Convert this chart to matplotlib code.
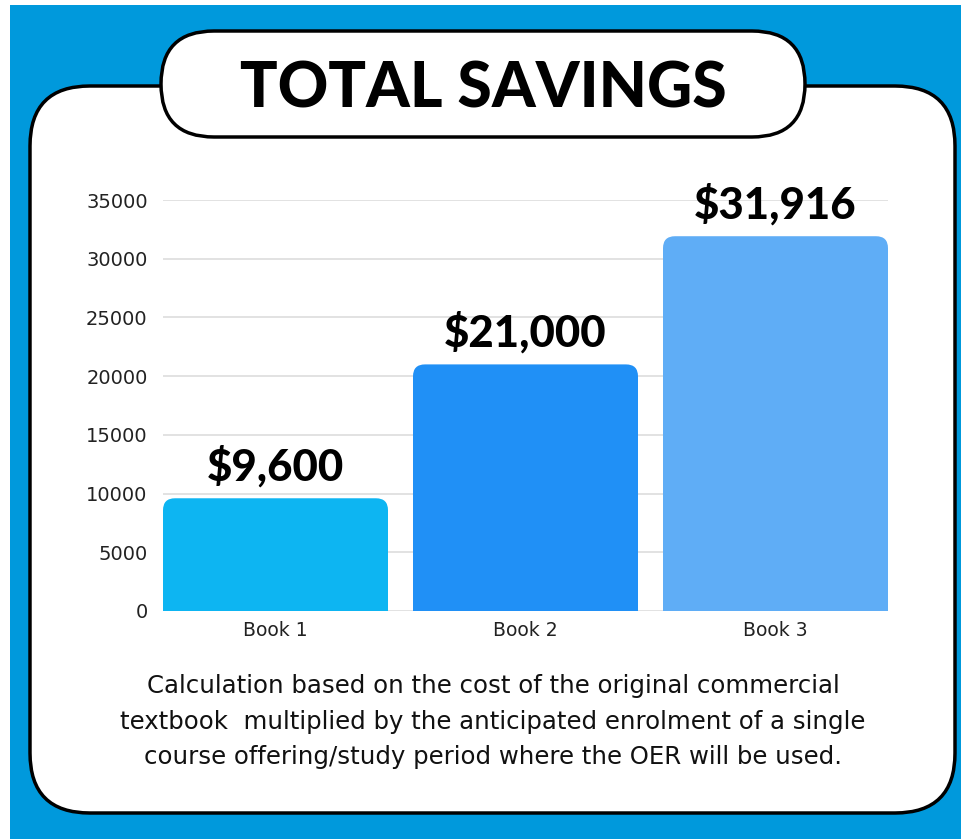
import matplotlib
matplotlib.use("Agg")
import matplotlib.pyplot as plt
from matplotlib.patches import FancyBboxPatch, Rectangle
from matplotlib.transforms import IdentityTransform

categories = ["Book 1", "Book 2", "Book 3"]
savings = [9600, 21000, 31916]
value_labels = ["$9,600", "$21,000", "$31,916"]
yticks = [0, 5000, 10000, 15000, 20000, 25000, 30000, 35000]
title = "TOTAL SAVINGS"
footer = ["Calculation based on the cost of the original commercial",
          "textbook  multiplied by the anticipated enrolment of a single",
          "course offering/study period where the OER will be used."]
bar_colors = ["#0db5f2", "#2090f6", "#5fadf6"]

W, H = 961, 839
fig = plt.figure(figsize=(W / 100, H / 100), dpi=100)
fig.patch.set_facecolor("white")

bg = fig.add_axes([0, 0, 1, 1])
bg.set_xlim(0, W)
bg.set_ylim(H, 0)
bg.axis("off")
bg.add_patch(Rectangle((10, 5), W - 10, H - 5, facecolor="#0099dc", edgecolor="none", zorder=0))
bg.add_patch(FancyBboxPatch((30, 86), 925, 727, boxstyle="round,pad=0,rounding_size=60",
                            facecolor="white", edgecolor="black", lw=2.5, zorder=1))
bg.add_patch(FancyBboxPatch((161, 31), 644, 106, boxstyle="round,pad=0,rounding_size=53",
                            facecolor="white", edgecolor="black", lw=2.5, zorder=2))
bg.text(483, 107, title, ha="center", va="baseline", fontsize=45, fontweight="black",
        family="Lato", color="black", zorder=3)
for i, line in enumerate(footer):
    bg.text(493, 693 + i * 35.5, line, ha="center", va="baseline", fontsize=17.6,
            family="DejaVu Sans", color="#111111", zorder=3)

left, right, bottom, top = 163, 888, 611, 200
ax = fig.add_axes([left / W, (H - bottom) / H, (right - left) / W, (bottom - top) / H])
ax.set_facecolor("none")
bars = ax.bar(range(len(categories)), savings, width=0.9, color=bar_colors, zorder=3)
ax.set_xlim(-0.45, len(categories) - 0.55)
ax.set_ylim(0, 35000)
ax.set_yticks(yticks)
ax.set_yticklabels([str(t) for t in yticks])
ax.set_xticks(range(len(categories)))
ax.set_xticklabels(categories)
ax.grid(axis="y", color="#dddddd", lw=1.2, zorder=0)
ax.set_axisbelow(True)
for s in ax.spines.values():
    s.set_visible(False)
ax.tick_params(axis="y", length=0, pad=11, labelsize=14, labelcolor="#222222")
ax.tick_params(axis="x", length=0, pad=7, labelsize=13.5, labelcolor="#222222")
for lab in ax.get_xticklabels() + ax.get_yticklabels():
    lab.set_family("DejaVu Sans")

fig.canvas.draw()
r = 12
for b in bars:
    (x0, y0), (x1, y1) = ax.transData.transform([(b.get_x(), 0), (b.get_x() + b.get_width(), b.get_height())])
    clip = FancyBboxPatch((x0, y0 - 2 * r), x1 - x0, y1 - y0 + 2 * r,
                          boxstyle=f"round,pad=0,rounding_size={r}", transform=IdentityTransform())
    b.set_clip_path(clip)

for i, (v, lab) in enumerate(zip(savings, value_labels)):
    ax.annotate(lab, (i, v), xytext=(0, 12.5), textcoords="offset points", ha="center",
                va="baseline", fontsize=31.5, fontweight="black", family="Lato", color="black",
                annotation_clip=False)

fig.savefig("out.png", dpi=100)
